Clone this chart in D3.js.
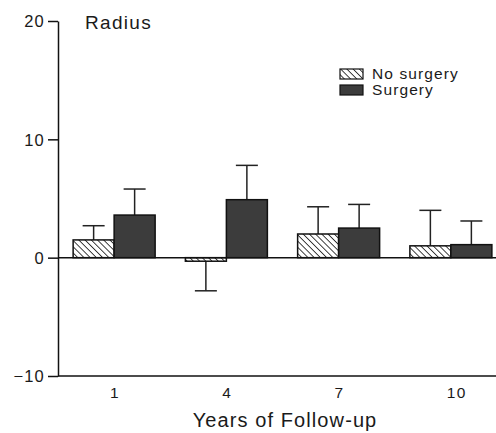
<!DOCTYPE html>
<html>
<head>
<meta charset="utf-8">
<script src="https://d3js.org/d3.v7.min.js"></script>
<style>
  body { margin: 0; background: #fff; }
  text { font-family: "Liberation Sans", Arial, sans-serif; fill: #1a1a1a; }
</style>
</head>
<body>
<div id="chart"></div>
<script>
// data
const years = ["1", "4", "7", "10"];
const series = ["No surgery", "Surgery"];
const noSurgery = [1.5, -0.3, 2.0, 1.0];
const noSurgeryErr = [1.2, 2.5, 2.3, 3.0];
const surgery = [3.6, 4.9, 2.5, 1.1];
const surgeryErr = [2.2, 2.9, 2.0, 2.0];
const yTicks = [-10, 0, 10, 20];

const width = 496, height = 433;
const x0 = 58;

const svg = d3.select("#chart").append("svg")
  .attr("width", width).attr("height", height);

// hatch pattern, lines running top-left to bottom-right
const defs = svg.append("defs");
const pat = defs.append("pattern")
  .attr("id", "hatch")
  .attr("patternUnits", "userSpaceOnUse")
  .attr("width", 4.4).attr("height", 4.4)
  .attr("patternTransform", "rotate(-45)");
pat.append("rect").attr("width", 4.4).attr("height", 4.4).attr("fill", "#fff");
pat.append("line").attr("x1", 0).attr("y1", 0).attr("x2", 0).attr("y2", 4.4)
  .attr("stroke", "#222").attr("stroke-width", 1.7);

const y = d3.scaleLinear().domain([-10, 20]).range([376, 21]);
const x = d3.scaleBand().domain(years).range([x0, 507]);
const inner = d3.scaleBand().domain(series).range([x.bandwidth() / 2 - 41, x.bandwidth() / 2 + 41]);

const fills = { "No surgery": "url(#hatch)", "Surgery": "#3c3c3c" };

const rows = [];
years.forEach((yr, i) => {
  rows.push({ yr, s: "No surgery", v: noSurgery[i], e: noSurgeryErr[i] });
  rows.push({ yr, s: "Surgery", v: surgery[i], e: surgeryErr[i] });
});

// error bars (drawn first so the bar edge covers the stem start)
const err = svg.append("g").attr("stroke", "#222").attr("stroke-width", 1.5);
rows.forEach(d => {
  const cx = x(d.yr) + inner(d.s) + inner.bandwidth() / 2;
  const end = d.v >= 0 ? d.v + d.e : d.v - d.e;
  err.append("line").attr("x1", cx).attr("x2", cx).attr("y1", y(d.v)).attr("y2", y(end));
  err.append("line").attr("x1", cx - 11).attr("x2", cx + 11).attr("y1", y(end)).attr("y2", y(end));
});

// bars
svg.append("g").selectAll("rect").data(rows).join("rect")
  .attr("x", d => x(d.yr) + inner(d.s))
  .attr("width", inner.bandwidth())
  .attr("y", d => y(Math.max(0, d.v)))
  .attr("height", d => Math.abs(y(d.v) - y(0)))
  .attr("fill", d => fills[d.s])
  .attr("stroke", "#111")
  .attr("stroke-width", 1.5);

// zero line
svg.append("line")
  .attr("x1", x0).attr("x2", width)
  .attr("y1", y(0)).attr("y2", y(0))
  .attr("stroke", "#111").attr("stroke-width", 1.5);

// y axis
const yAxis = svg.append("g")
  .attr("transform", `translate(${x0},0)`)
  .call(d3.axisLeft(y).tickValues(yTicks).tickSize(10).tickSizeOuter(0)
    .tickFormat(d => d < 0 ? "\u2212" + Math.abs(d) : d));
yAxis.select(".domain").attr("stroke", "#111").attr("stroke-width", 1.5);
yAxis.selectAll(".tick line").attr("stroke", "#111").attr("stroke-width", 1.5);
yAxis.selectAll(".tick text").attr("font-size", 16.5).attr("x", -13).attr("dy", "0.36em")
  .attr("fill", "#1a1a1a").attr("letter-spacing", 1.2)
  .style("font-family", "Liberation Sans, Arial, sans-serif");

// x axis (no tick marks)
const xAxis = svg.append("g")
  .attr("transform", `translate(0,${y(-10)})`)
  .call(d3.axisBottom(x).tickSize(0).tickPadding(11));
xAxis.select(".domain").attr("d", `M${x0},0H${width}`).attr("stroke", "#111").attr("stroke-width", 1.5);
xAxis.selectAll(".tick text").attr("font-size", 15.5).attr("fill", "#1a1a1a")
  .attr("letter-spacing", 1.5).attr("dx", d => d === "10" ? 6 : 1)
  .style("font-family", "Liberation Sans, Arial, sans-serif");

// axis title
svg.append("text")
  .attr("x", 285).attr("y", 427)
  .attr("text-anchor", "middle")
  .attr("font-size", 20)
  .attr("letter-spacing", 1.1)
  .text("Years of Follow-up");

// panel title
svg.append("text")
  .attr("x", 85).attr("y", 29)
  .attr("font-size", 19)
  .attr("letter-spacing", 1.3)
  .text("Radius");

// legend
const legend = svg.append("g").attr("transform", "translate(340,69)");
series.forEach((s, i) => {
  const g = legend.append("g").attr("transform", `translate(0,${i * 16})`);
  g.append("rect").attr("width", 23).attr("height", 10)
    .attr("fill", fills[s]).attr("stroke", "#111").attr("stroke-width", 1.2);
  g.append("text").attr("x", 32).attr("y", 10).attr("font-size", 15.5)
    .attr("letter-spacing", 1.1).text(s);
});
</script>
</body>
</html>
